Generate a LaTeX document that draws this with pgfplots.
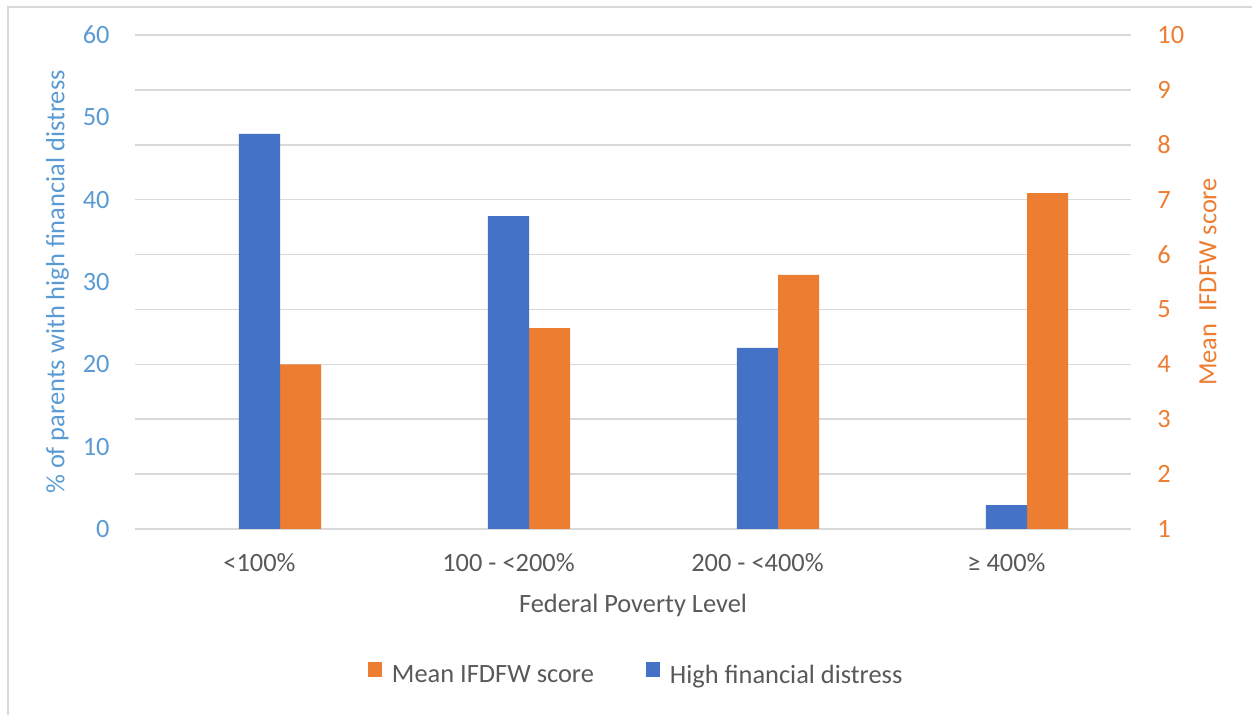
\documentclass[border=0pt]{standalone}
\usepackage{pgfplots}
\pgfplotsset{compat=1.18}
\usepackage{fontspec}
\setmainfont{Carlito}

\definecolor{barblue}{HTML}{4472C4}
\definecolor{barorange}{HTML}{ED7D31}
\definecolor{axblue}{HTML}{5B9BD5}
\definecolor{txtgray}{HTML}{595959}
\definecolor{gridgray}{HTML}{D9D9D9}
\newcommand{\chartfont}{\fontsize{13.2}{15.8}\selectfont}

\pgfplotsset{
  base/.style={
    at={(0,0)}, anchor=south west,
    scale only axis, width=498pt, height=247pt,
    xmin=-0.5, xmax=3.5,
    ybar, bar width=0.165,
    major tick length=0pt,
    axis line style={draw=none},
    tick label style={font=\chartfont, inner sep=0pt},
    label style={font=\chartfont},
    /pgf/number format/assume math mode=true,
  },
  sq/.style={legend image code/.code={\fill[##1, draw=none] (0pt,-0.4pt) rectangle (7.2pt,6.8pt); \path (10pt,0pt);}},
}

\begin{document}
\begin{tikzpicture}
\useasboundingbox (-67.5pt,-93pt) rectangle (558.5pt,264.5pt);
\fill[white] (-67.5pt,-93pt) rectangle (558.5pt,264.5pt);
\draw[gridgray, line width=0.75pt] (-63.5pt,-93pt) -- (-63.5pt,261pt) -- (558.5pt,261pt);

% right axis: score, grid lines
\begin{axis}[base,
    axis y line*=right, axis x line*=bottom,
    ymin=1, ymax=10, ytick={1,2,...,10},
    xtick=\empty,
    ymajorgrids, grid style={gridgray, line width=0.75pt},
    yticklabel style={barorange, anchor=west, xshift=13pt},
    ylabel={Mean\ \ IFDFW score},
    ylabel style={barorange, at={(axis description cs:1,0.5)}, anchor=center, yshift=-38.5pt},
]
\addplot[fill=barorange, draw=none, bar shift=0.165]
  coordinates {(0,4.00) (1,4.66) (2,5.63) (3,7.12)};
\end{axis}

% left axis: percentage
\begin{axis}[base,
    axis y line*=left, axis x line*=bottom,
    ymin=0, ymax=60, ytick={0,10,...,60},
    xtick={0,1,2,3},
    xticklabels={{<100\%}, {100 - <200\%}, {200 - <400\%}, {≥ 400\%}},
    xticklabel style={txtgray, anchor=base, yshift=-21.25pt},
    yticklabel style={axblue, anchor=east, xshift=-12.5pt},
    xlabel={Federal Poverty Level},
    xlabel style={txtgray, at={(axis description cs:0.5,0)}, anchor=base, inner sep=0pt, yshift=-41.75pt},
    ylabel={\% of parents with high financial distress},
    ylabel style={axblue, at={(axis description cs:0,0.5)}, anchor=center, yshift=38.75pt},
    legend columns=2,
    legend style={at={(axis description cs:0.5,0)}, anchor=center, yshift=-73.5pt, xshift=2pt,
      draw=none, fill=none, font=\chartfont, text=txtgray,
      /tikz/every even column/.append style={column sep=24pt}},
]
\addlegendimage{sq, fill=barorange}
\addlegendentry{Mean IFDFW score}
\addplot[sq, fill=barblue, draw=none, bar shift=0]
  coordinates {(0,48) (1,38) (2,22) (3,2.9)};
\addlegendentry{High financial distress}
\end{axis}
\end{tikzpicture}
\end{document}
